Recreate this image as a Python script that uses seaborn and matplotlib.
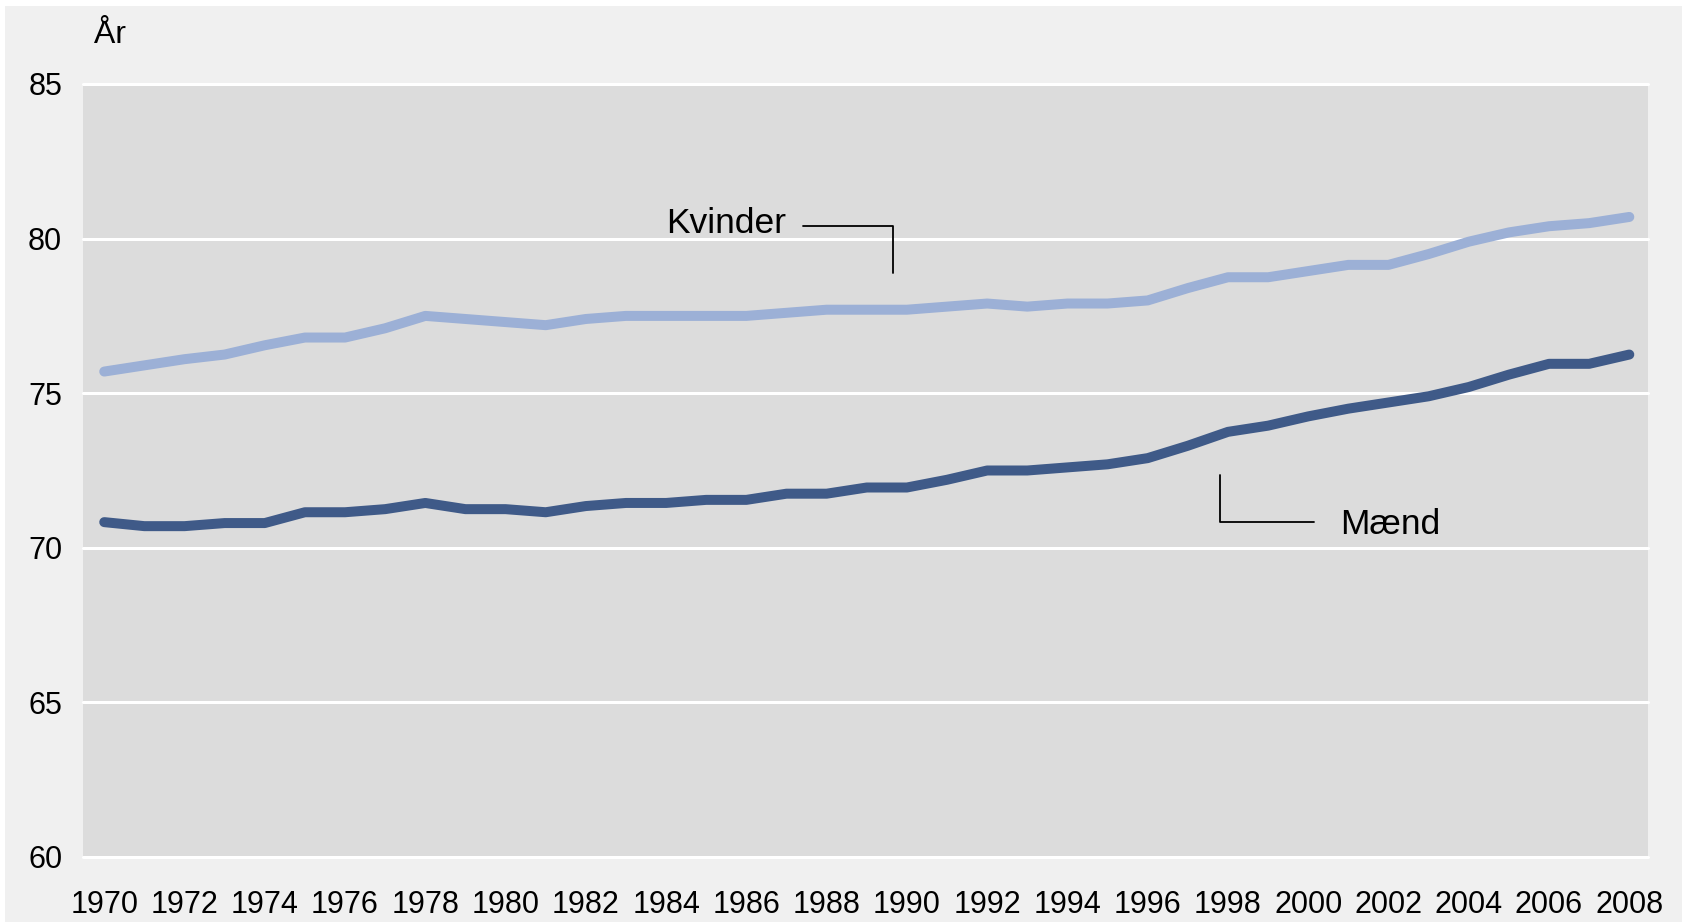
import numpy as np
import pandas as pd
import matplotlib
matplotlib.use("Agg")
import matplotlib.pyplot as plt
from matplotlib.patches import Rectangle
import seaborn as sns

# Middellevetid 1970-2008
years = list(range(1970, 2009))
kvinder = [75.7, 75.9, 76.1, 76.25, 76.55, 76.8, 76.8, 77.1, 77.5, 77.4,
           77.3, 77.2, 77.4, 77.5, 77.5, 77.5, 77.5, 77.6, 77.7, 77.7,
           77.7, 77.8, 77.9, 77.8, 77.9, 77.9, 78.0, 78.4, 78.75, 78.75,
           78.95, 79.15, 79.15, 79.5, 79.9, 80.2, 80.4, 80.5, 80.7]
maend = [70.83, 70.7, 70.7, 70.8, 70.8, 71.15, 71.15, 71.25, 71.45, 71.25,
         71.25, 71.15, 71.35, 71.45, 71.45, 71.55, 71.55, 71.75, 71.75, 71.95,
         71.95, 72.2, 72.5, 72.5, 72.6, 72.7, 72.9, 73.3, 73.75, 73.95,
         74.25, 74.5, 74.7, 74.9, 75.2, 75.6, 75.95, 75.95, 76.25]
y_ticks = [60, 65, 70, 75, 80, 85]
x_ticks = list(range(1970, 2009, 2))

df = pd.DataFrame({
    "Aar": years * 2,
    "Levetid": kvinder + maend,
    "Koen": ["Kvinder"] * len(years) + ["Mænd"] * len(years),
})

sns.set_theme(style="white")
plt.rcParams["font.family"] = ["Liberation Sans Narrow", "Liberation Sans", "DejaVu Sans"]
plt.rcParams["text.color"] = "black"

fig = plt.figure(figsize=(16.83, 9.22), dpi=100, facecolor="white")
fig.patches.append(Rectangle((5 / 1683, 0), 1, 1 - 6 / 922, transform=fig.transFigure,
                             facecolor="#f0f0f0", edgecolor="none", zorder=-10))
ax = fig.add_axes([0.0493, 0.0705, 0.930, 0.8384])
ax.set_facecolor("#dcdcdc")

sns.lineplot(data=df, x="Aar", y="Levetid", hue="Koen",
             palette={"Kvinder": "#9cb0d6", "Mænd": "#3f5a88"},
             linewidth=7.2, solid_capstyle="round", legend=False, ax=ax, zorder=3)

ax.set_xlim(1969.47, 2008.47)
ax.set_ylim(60, 85)
ax.set_yticks(y_ticks)
ax.set_xticks(x_ticks)
ax.yaxis.grid(True, color="white", linewidth=2.2)
for gl in ax.get_ygridlines():
    gl.set_clip_on(False)
ax.set_axisbelow(True)
for s in ax.spines.values():
    s.set_visible(False)
ax.tick_params(axis="both", length=0, labelsize=22, colors="black")
ax.tick_params(axis="y", pad=15)
ax.tick_params(axis="x", pad=24)
ax.set_xlabel("")
ax.set_ylabel("")

# etiketter med linjer
ax.text(1984.0, 80.5, "Kvinder", fontsize=25.5, va="center", ha="left", color="black")
ax.plot([1987.4, 1989.65, 1989.65], [80.42, 80.42, 78.9], color="black", lw=1.3, zorder=4)
ax.text(2000.8, 70.76, "Mænd", fontsize=25.5, va="center", ha="left", color="black")
ax.plot([1997.8, 1997.8, 2000.15], [72.36, 70.83, 70.83], color="black", lw=1.3, zorder=4)

fig.text(94 / 1683, 1 - 43 / 922, "År", fontsize=23, va="baseline", ha="left", color="black")

fig.savefig("out.png", dpi=100, facecolor=fig.get_facecolor())
